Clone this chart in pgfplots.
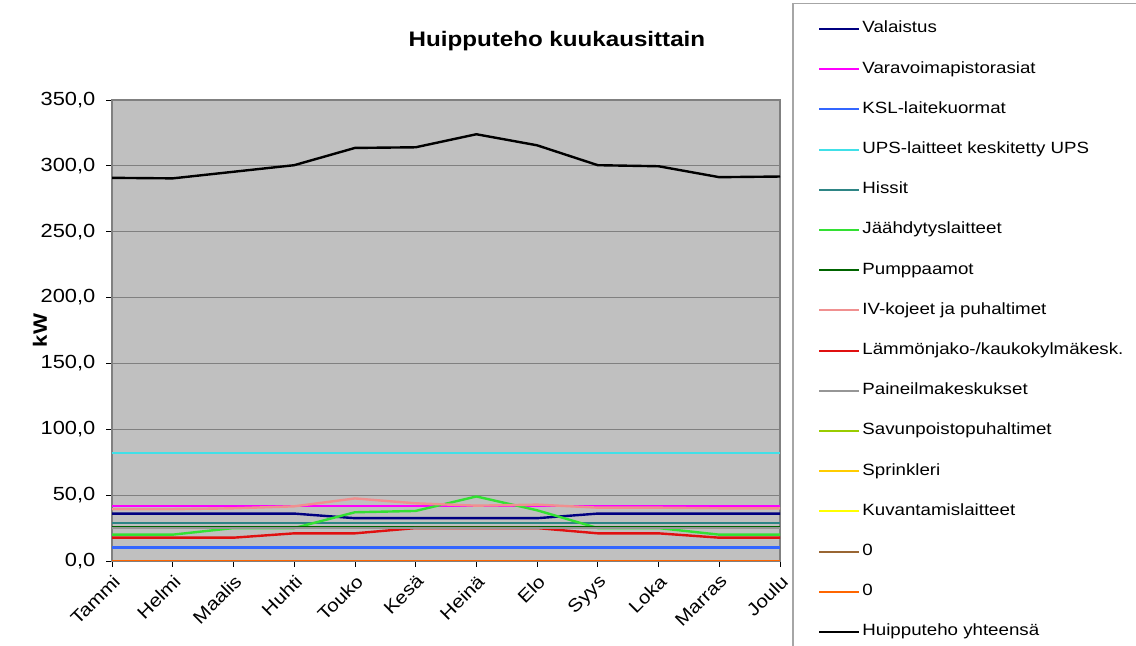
\documentclass[border=0pt]{standalone}
\usepackage{fontspec}
\setmainfont{Liberation Sans}[FakeStretch=1.15]
\usepackage{pgfplots}
\pgfplotsset{compat=1.18}
\usepackage{pgfplotstable}

\definecolor{plotgray}{HTML}{C0C0C0}
\definecolor{gridgray}{HTML}{808080}
\definecolor{cval}{HTML}{000080}
\definecolor{cvara}{HTML}{FF00FF}
\definecolor{cksl}{HTML}{3366FF}
\definecolor{cups}{HTML}{40E0E8}
\definecolor{chiss}{HTML}{2E8585}
\definecolor{cjaah}{HTML}{33E033}
\definecolor{cpump}{HTML}{006400}
\definecolor{civ}{HTML}{F09090}
\definecolor{clamp}{HTML}{E01010}
\definecolor{cpaine}{HTML}{969696}
\definecolor{csavu}{HTML}{99CC00}
\definecolor{cspri}{HTML}{FFCC00}
\definecolor{ckuva}{HTML}{FFFF00}
\definecolor{cnolla}{HTML}{996633}
\definecolor{cnollab}{HTML}{FF6600}

\pgfplotstableread{
x val vara ksl ups hiss jaah pump iv lamp paine savu spri kuva nolla nollab tot
0  36   41.6 10.3 82 28.8 20   26 39.3 17.7 25 0 0 0 0 0 290.9
1  36   41.6 10.3 82 28.8 20   26 39.3 17.7 25 0 0 0 0 0 290.5
2  36   41.6 10.3 82 28.8 25   26 40.0 17.7 25 0 0 0 0 0 295.5
3  36   41.6 10.3 82 28.8 25   26 41.5 21.0 25 0 0 0 0 0 300.5
4  32.5 41.6 10.3 82 28.8 37   26 47.5 21.0 25 0 0 0 0 0 313.6
5  32.5 41.6 10.3 82 28.8 38   26 43.8 25.0 25 0 0 0 0 0 314.1
6  32.5 41.6 10.3 82 28.8 49   26 42.0 25.0 25 0 0 0 0 0 324.0
7  32.5 41.6 10.3 82 28.8 38.5 26 42.8 25.0 25 0 0 0 0 0 315.6
8  36   41.6 10.3 82 28.8 25   26 40.5 21.0 25 0 0 0 0 0 300.5
9  36   41.6 10.3 82 28.8 25   26 40.5 21.0 25 0 0 0 0 0 299.7
10 36   41.6 10.3 82 28.8 20   26 40.0 17.7 25 0 0 0 0 0 291.4
11 36   41.6 10.3 82 28.8 20   26 40.0 17.7 25 0 0 0 0 0 291.9
}\data

\begin{document}
\begin{tikzpicture}
\path[use as bounding box] (0,0) rectangle (852pt,484.5pt);
\fill[white] (0,0) rectangle (852pt,484.5pt);
\draw[gridgray!70, fill=white, line width=0.8pt] (594.75pt,-5pt) rectangle (860pt,482pt);
\begin{axis}[
  at={(84pt,63.75pt)}, anchor=south west,
  scale only axis, width=501pt, height=345.75pt,
  xmin=0, xmax=11, ymin=0, ymax=350,
  xtick={0,...,11},
  xticklabels={Tammi,Helmi,Maalis,Huhti,Touko,Kesä,Heinä,Elo,Syys,Loka,Marras,Joulu},
  ytick={0,50,...,350},
  axis background/.style={fill=plotgray},
  ymajorgrids, grid style={gridgray, line width=0.8pt},
  axis line style={gridgray, line width=0.8pt},
  tick align=outside, tick pos=left, major tick length=4.5pt,
  tick style={black, line width=0.6pt},
  /pgf/number format/.cd, fixed, fixed zerofill, precision=1, use comma, assume math mode=true,
  /pgfplots/.cd,
  yticklabel style={font=\fontsize{14.25}{16}\selectfont, xshift=-4.5pt},
  xticklabel style={font=\fontsize{13.5}{16}\selectfont, rotate=45, anchor=north east},
  ylabel={\bfseries kW},
  ylabel style={font=\fontsize{14.5}{16}\selectfont, at={(axis description cs:-0.108,0.5)}, anchor=center, rotate=0},
  title={\bfseries Huipputeho kuukausittain},
  title style={font=\fontsize{15.75}{18}\selectfont, at={(axis description cs:0.666,1.11)}, anchor=center},
  legend cell align=left,
  legend image code/.code={\draw[#1, line width=1.6pt] (0pt,0pt) -- (30pt,0pt);},
  legend style={at={(axis description cs:1.0569,1.172)}, anchor=north west,
    draw=none, fill=none, inner sep=0pt, row sep=18.15pt, column sep=1.5pt,
    font=\fontsize{12.2}{14}\selectfont,
    nodes={text height=9pt, text depth=3pt, inner sep=0pt}},
  every axis plot/.append style={line width=1.8pt},
]
\addplot[cval] table[x=x,y=val]{\data};
\addlegendentry{Valaistus}
\addplot[cvara] table[x=x,y=vara]{\data};
\addlegendentry{Varavoimapistorasiat}
\addplot[cksl] table[x=x,y=ksl]{\data};
\addlegendentry{KSL-laitekuormat}
\addplot[cups] table[x=x,y=ups]{\data};
\addlegendentry{UPS-laitteet keskitetty UPS}
\addplot[chiss] table[x=x,y=hiss]{\data};
\addlegendentry{Hissit}
\addplot[cjaah] table[x=x,y=jaah]{\data};
\addlegendentry{Jäähdytyslaitteet}
\addplot[cpump] table[x=x,y=pump]{\data};
\addlegendentry{Pumppaamot}
\addplot[civ] table[x=x,y=iv]{\data};
\addlegendentry{IV-kojeet ja puhaltimet}
\addplot[clamp] table[x=x,y=lamp]{\data};
\addlegendentry{Lämmönjako-/kaukokylmäkesk.}
\addplot[cpaine] table[x=x,y=paine]{\data};
\addlegendentry{Paineilmakeskukset}
\addplot[csavu] table[x=x,y=savu]{\data};
\addlegendentry{Savunpoistopuhaltimet}
\addplot[cspri] table[x=x,y=spri]{\data};
\addlegendentry{Sprinkleri}
\addplot[ckuva] table[x=x,y=kuva]{\data};
\addlegendentry{Kuvantamislaitteet}
\addplot[cnolla] table[x=x,y=nolla]{\data};
\addlegendentry{0}
\addplot[cnollab] table[x=x,y=nollab]{\data};
\addlegendentry{0}
\addplot[black] table[x=x,y=tot]{\data};
\addlegendentry{Huipputeho yhteensä}
\end{axis}
\end{tikzpicture}
\end{document}
